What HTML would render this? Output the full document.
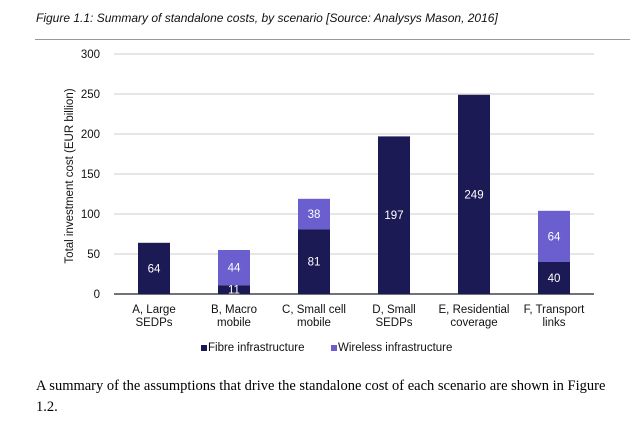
<!DOCTYPE html>
<html><head><meta charset="utf-8"><style>
body{margin:0;background:#fff;width:643px;height:427px;overflow:hidden;position:relative;font-family:"Liberation Sans",sans-serif}
#title{position:absolute;left:36px;top:11px;font-size:12px;font-style:italic;color:#111}
#rule{position:absolute;left:35px;top:39px;width:595px;height:1px;background:#999}
#para{position:absolute;left:36px;top:376px;width:580px;font-family:"Liberation Serif",serif;font-size:14.5px;line-height:21px;color:#000}
</style></head><body>
<div id="title">Figure 1.1: Summary of standalone costs, by scenario [Source: Analysys Mason, 2016]</div>
<div id="rule"></div>
<svg id="chart" width="643" height="427" style="position:absolute;left:0;top:0" font-family="Liberation Sans, sans-serif"></svg>
<div id="para">A summary of the assumptions that drive the standalone cost of each scenario are shown in Figure 1.2.</div>
<script>
const categories=[["A, Large","SEDPs"],["B, Macro","mobile"],["C, Small cell","mobile"],["D, Small","SEDPs"],["E, Residential","coverage"],["F, Transport","links"]];
const fibre=[64,11,81,197,249,40];
const wireless=[0,44,38,0,0,64];
const ticks=[0,50,100,150,200,250,300];
const svg=document.getElementById('chart');
const NS='http://www.w3.org/2000/svg';
const x0=114,x1=594,y0=294,yTop=54,ymax=300;
const bw=(x1-x0)/categories.length;
const y=v=>y0-(v/ymax)*(y0-yTop);
const xc=i=>x0+bw*(i+0.5);
function mk(t,a,txt){const e=document.createElementNS(NS,t);for(const k in a)e.setAttribute(k,a[k]);if(txt!=null)e.textContent=txt;svg.appendChild(e);return e;}
ticks.forEach(t=>{
 const g=mk('line',{x1:x0,x2:x1,y1:y(t),y2:y(t),stroke:t===0?'#222':'#ccc','stroke-width':t===0?1.3:1});
 
 
 const l=mk('text',{x:100,y:y(t)+4,'text-anchor':'end','font-size':11.5,fill:'#111'},t);
 
 
});
const at=mk('text',{x:0,y:0,transform:'translate(73,176) rotate(-90)','text-anchor':'middle','font-size':11.5,fill:'#111'},'Total investment cost (EUR billion)');


categories.forEach((c,i)=>{
 const cx=xc(i),w=32;
 const f=mk('rect',{x:cx-w/2,y:y(fibre[i]),width:w,height:y(0)-y(fibre[i]),fill:'#1c1a55'});
 
 
 if(fibre[i]>0){const t=mk('text',{x:cx,y:(y(0)+y(fibre[i]))/2+4,'text-anchor':'middle','font-size':11.5,fill:'#fff'},fibre[i]);
  
  }
 if(wireless[i]>0){
  const top=fibre[i]+wireless[i];
  const r=mk('rect',{x:cx-w/2,y:y(top),width:w,height:y(fibre[i])-y(top),fill:'#6b5fd0'});
  
  
  const t=mk('text',{x:cx,y:(y(top)+y(fibre[i]))/2+4,'text-anchor':'middle','font-size':11.5,fill:'#fff'},wireless[i]);
  
  
 }
 c.forEach((s,j)=>{const t=mk('text',{x:cx,y:313+j*13,'text-anchor':'middle','font-size':11.5,fill:'#111'},s);
  
  });
});
const l1=mk('rect',{x:201,y:345,width:6,height:6,fill:'#1c1a55'});


const lt1=mk('text',{x:208,y:351,'font-size':11.5,fill:'#111'},'Fibre infrastructure');


const l2=mk('rect',{x:331,y:345,width:6,height:6,fill:'#6b5fd0'});


const lt2=mk('text',{x:338,y:351,'font-size':11.5,fill:'#111'},'Wireless infrastructure');


</script>
</body></html>
